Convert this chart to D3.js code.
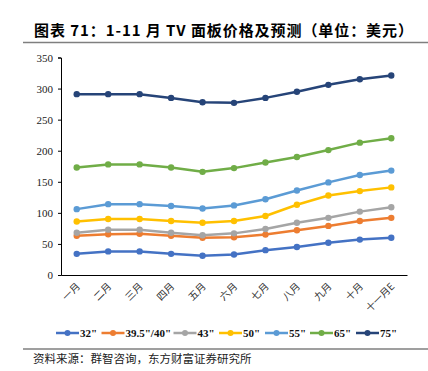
<!DOCTYPE html>
<html>
<head>
<meta charset="utf-8">
<script src="https://cdn.jsdelivr.net/npm/d3@7"></script>
<style>
  body { margin: 0; background: #fff; }
  svg { display: block; }
</style>
</head>
<body>
<svg id="chart" width="428" height="371"></svg>
<script>
// months on the x axis
const months = ['一月', '二月', '三月', '四月', '五月', '六月', '七月', '八月', '九月', '十月', '十一月E'];
const yTicks = [0, 50, 100, 150, 200, 250, 300, 350];

// panel prices, USD
const p32 = [34, 38, 38, 34, 31, 33, 40, 45, 52, 57, 60];
const p40 = [63, 65.5, 66.5, 63, 60, 60.7, 65, 72, 79, 87, 92];
const p43 = [68, 73, 73, 68, 64, 67, 74, 84, 92, 102, 109];
const p50 = [86, 90, 90, 87, 84, 87, 95, 113, 128, 135, 141];
const p55 = [106, 114, 114, 111, 107, 112, 122, 136, 149, 161, 168];
const p65 = [173, 178, 178, 173, 166, 172, 181, 190, 201, 213, 220];
const p75 = [291, 291, 291, 285, 278, 277, 285, 295, 306, 315, 321];

const seriesNames = ['32"', '39.5"/40"', '43"', '50"', '55"', '65"', '75"'];
const seriesColors = ['#4472C4', '#ED7D31', '#A5A5A5', '#FFC000', '#5B9BD5', '#70AD47', '#264478'];
const seriesData = [p32, p40, p43, p50, p55, p65, p75];

const svg = d3.select('#chart');

// title + rules
svg.append('text')
    .attr('x', 34).attr('y', 36)
    .attr('font-family', '"Noto Sans CJK SC"')
    .attr('font-weight', 'bold')
    .attr('font-size', 15)
    .attr('fill', '#000')
    .attr('textLength', 379)
    .text('图表 71：1-11 月 TV 面板价格及预测（单位：美元）');

svg.append('line')
    .attr('x1', 23).attr('x2', 428).attr('y1', 42.5).attr('y2', 42.5)
    .attr('stroke', '#7f7f7f').attr('stroke-width', 1.5);

svg.append('line')
    .attr('x1', 23).attr('x2', 428).attr('y1', 349).attr('y2', 349)
    .attr('stroke', '#7f7f7f').attr('stroke-width', 1.5);

svg.append('text')
    .attr('x', 33).attr('y', 363)
    .attr('font-family', '"Noto Sans CJK SC"')
    .attr('font-size', 11.5)
    .attr('fill', '#222')
    .text('资料来源：群智咨询，东方财富证券研究所');

// plot area
const plotLeft = 61, plotRight = 407, plotTop = 57.5, plotBottom = 275;

const x = d3.scaleBand().domain(months).range([plotLeft, plotRight]);
const y = d3.scaleLinear().domain([0, 350]).range([plotBottom, plotTop]);

const yAxis = svg.append('g')
    .attr('transform', `translate(${plotLeft},0)`)
    .call(d3.axisLeft(y).tickValues(yTicks).tickSize(3).tickPadding(5));
yAxis.select('.domain').attr('stroke', '#000');
yAxis.selectAll('text')
    .attr('font-family', '"Liberation Serif"')
    .attr('font-size', 11)
    .attr('fill', '#222');

const xAxis = svg.append('g')
    .attr('transform', `translate(0,${plotBottom})`)
    .call(d3.axisBottom(x).tickSize(0).tickSizeOuter(0));
xAxis.select('.domain').attr('stroke', '#000');
xAxis.selectAll('text')
    .attr('font-family', '"Noto Sans CJK SC"')
    .attr('font-size', 10)
    .attr('fill', '#333')
    .attr('text-anchor', 'end')
    .attr('dy', null)
    .attr('y', 0)
    .attr('transform', 'translate(4,12) rotate(-45)');

const line = d3.line()
    .x((d, i) => x(months[i]) + x.bandwidth() / 2)
    .y(d => y(d));

seriesData.forEach(function (vals, k) {
    const g = svg.append('g');
    g.append('path')
        .attr('d', line(vals))
        .attr('fill', 'none')
        .attr('stroke', seriesColors[k])
        .attr('stroke-width', 2.5)
        .attr('stroke-linejoin', 'round');
    g.selectAll('circle')
        .data(vals)
        .join('circle')
        .attr('cx', (d, i) => x(months[i]) + x.bandwidth() / 2)
        .attr('cy', d => y(d))
        .attr('r', 3.2)
        .attr('fill', seriesColors[k]);
});

// legend
const legendX = [56, 101.5, 173.5, 219, 265, 310, 356];
const legend = svg.append('g');
seriesNames.forEach(function (name, k) {
    const lg = legend.append('g').attr('transform', `translate(${legendX[k]},333)`);
    lg.append('line')
        .attr('x1', 0).attr('x2', 23).attr('y1', 0).attr('y2', 0)
        .attr('stroke', seriesColors[k]).attr('stroke-width', 2.5);
    lg.append('circle').attr('cx', 11.5).attr('cy', 0).attr('r', 3).attr('fill', seriesColors[k]);
    lg.append('text')
        .attr('x', 24).attr('y', 4)
        .attr('font-family', '"Liberation Serif"')
        .attr('font-weight', 'bold')
        .attr('font-size', 11)
        .attr('fill', '#111')
        .text(name);
});
</script>
</body>
</html>
